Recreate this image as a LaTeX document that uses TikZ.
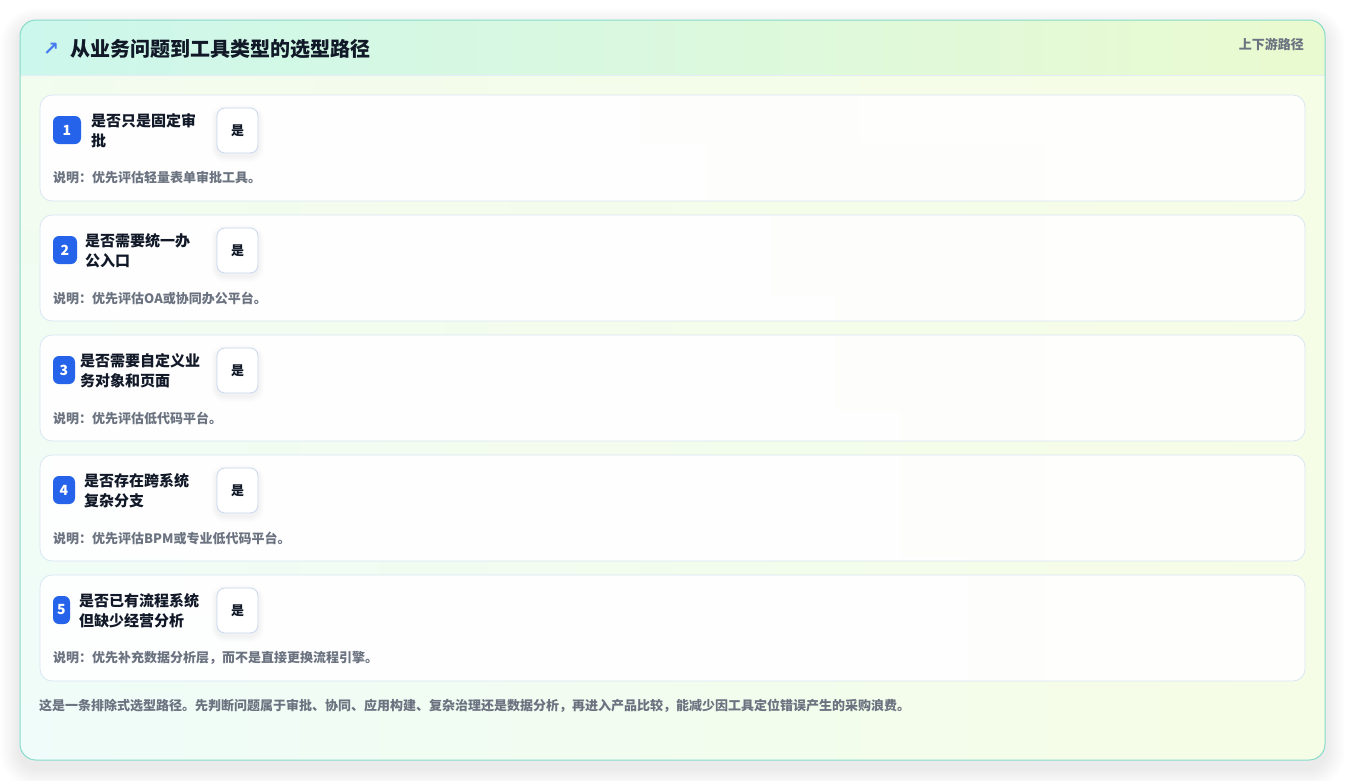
\documentclass[tikz,border=0pt]{standalone}
\usepackage{fontspec}
\usetikzlibrary{fadings}
\newfontfamily\cjk{Noto Sans CJK SC}
\newfontfamily\djv{DejaVu Sans}
\definecolor{cardborder}{HTML}{86DCCB}
\definecolor{hdrL}{HTML}{CCF7EC}
\definecolor{hdrR}{HTML}{EAFAD0}
\definecolor{bodyT}{HTML}{EFFCFA}
\definecolor{bodyB}{HTML}{F6FDE6}
\definecolor{rowborder}{HTML}{D8E6F3}
\definecolor{badgeblue}{HTML}{2563EB}
\definecolor{titlec}{HTML}{111827}
\definecolor{grayt}{HTML}{6B7280}
\definecolor{yesborder}{HTML}{C9D8F0}
\tikzset{
  rowcard/.style={draw=rowborder, line width=0.8pt, fill=white, fill opacity=0.9, rounded corners=12pt},
  badge/.style={fill=badgeblue, rounded corners=6pt, text=white, font=\cjk\bfseries\fontsize{14}{14}\selectfont, inner sep=0pt, minimum height=28pt},
  qtext/.style={anchor=west, align=left, font=\cjk\bfseries\fontsize{15}{20}\selectfont, text=titlec, inner sep=0pt},
  yesbox/.style={draw=yesborder, line width=0.8pt, fill=white, rounded corners=8pt, minimum width=41pt, minimum height=45pt, inner sep=0pt, font=\cjk\bfseries\fontsize{13}{13}\selectfont, text=titlec},
  desc/.style={anchor=west, font=\cjk\bfseries\fontsize{13}{13}\selectfont, text=grayt, inner sep=0pt},
}
\newcommand\qrow[7]{%
  \draw[rowcard] (40,#1) rectangle (1305,#1+106);
  \node[inner sep=0pt, minimum width=1265pt, minimum height=106pt] (row#2) at (672.5,#1+53) {};
  \node[badge, minimum width=#3pt] (badge#2) at (53+#3/2,#1+35) {#2};
  \node[qtext] (q#2) at (#4,#1+36) {#5\\#6};
  \foreach \s in {1,...,6}{\fill[black, opacity=0.007, rounded corners=8pt+\s pt] (217-\s,#1+13-\s+3) rectangle (258+\s,#1+58+\s+3);}
  \node[yesbox] (yes#2) at (237.5,#1+35.5) {是};
  \node[desc] (d#2) at (53,#1+83) {#7};
}
\begin{document}
\begin{tikzpicture}[x=1pt,y=-1pt]
\useasboundingbox (0,0) rectangle (1345,780);
\fill[white] (0,0) rectangle (1345,780);
% shadow
\foreach \i in {1,...,20}{
  \fill[black, opacity=0.0045, rounded corners=16pt+\i pt] (20-\i,20-\i+8) rectangle (1325+\i,760+\i+8);
}
% card body
\shade[left color=bodyT, right color=bodyB, rounded corners=16pt] (20,20) rectangle (1325,760);
\fill[bodyB, opacity=0.6, path fading=south, rounded corners=16pt] (20,20) rectangle (1325,760);
% header
\begin{scope}
\clip[rounded corners=16pt] (20,20) rectangle (1325,760);
\shade[left color=hdrL, right color=hdrR] (20,20) rectangle (1325,75);
\draw[rowborder!70, line width=0.6pt] (20,75) -- (1325,75);
\end{scope}
\draw[cardborder, line width=1pt, rounded corners=16pt] (20,20) rectangle (1325,760);
\node[inner sep=0pt, text=badgeblue!85, font=\djv\bfseries\fontsize{19}{19}\selectfont] (arrow) at (51,49) {↗};
\node[anchor=west, inner sep=0pt, font=\cjk\bfseries\fontsize{20}{20}\selectfont, text=titlec] (title) at (70,49) {从业务问题到工具类型的选型路径};
\node[anchor=east, inner sep=0pt, font=\cjk\bfseries\fontsize{13}{13}\selectfont, text=grayt] (tag) at (1304,44) {上下游路径};
\qrow{95}{1}{28}{91}{是否只是固定审}{批}{说明：优先评估轻量表单审批工具。}
\qrow{215}{2}{24}{85}{是否需要统一办}{公入口}{说明：优先评估OA或协同办公平台。}
\qrow{335}{3}{22}{80}{是否需要自定义业}{务对象和页面}{说明：优先评估低代码平台。}
\qrow{455}{4}{22}{84}{是否存在跨系统}{复杂分支}{说明：优先评估BPM或专业低代码平台。}
\qrow{575}{5}{17}{79}{是否已有流程系统}{但缺少经营分析}{说明：优先补充数据分析层，而不是直接更换流程引擎。}
\node[anchor=west, inner sep=0pt, font=\cjk\bfseries\fontsize{13}{13}\selectfont, text=grayt] (foot) at (39,706) {这是一条排除式选型路径。先判断问题属于审批、协同、应用构建、复杂治理还是数据分析，再进入产品比较，能减少因工具定位错误产生的采购浪费。};
\end{tikzpicture}
\end{document}
